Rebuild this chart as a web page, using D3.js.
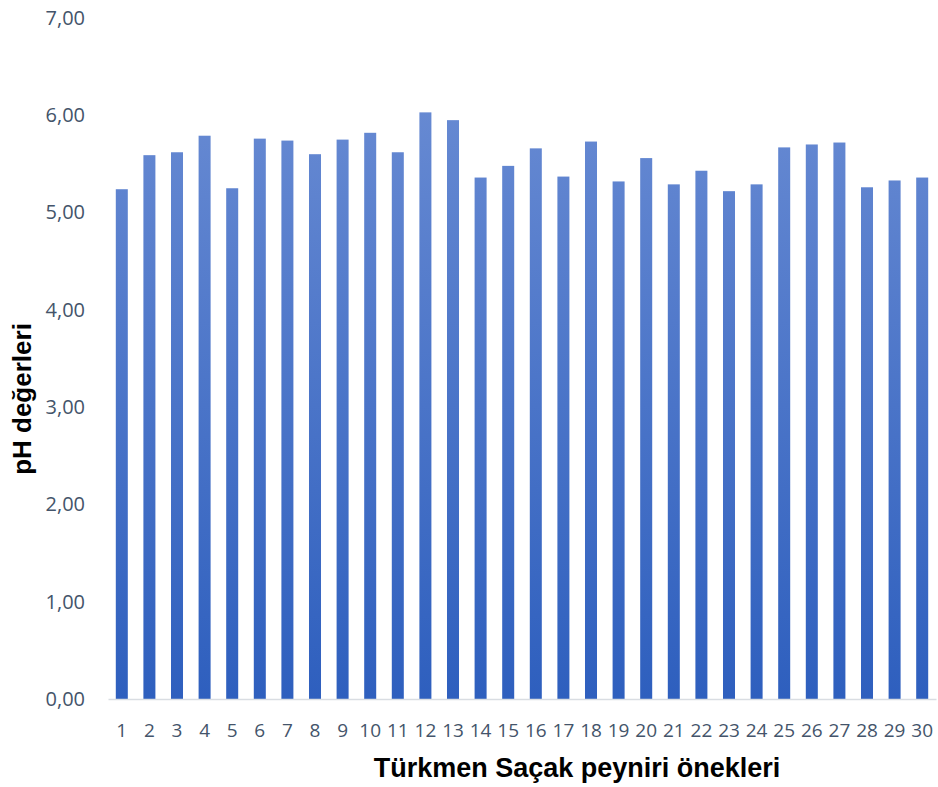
<!DOCTYPE html>
<html>
<head>
<meta charset="utf-8">
<script src="https://cdn.jsdelivr.net/npm/d3@7/dist/d3.min.js"></script>
<style>
  html, body { margin: 0; padding: 0; background: #ffffff; }
  svg { display: block; }
</style>
</head>
<body>
<svg id="chart" width="938" height="787"></svg>
<script>
// pH values of the 30 Türkmen Saçak cheese samples
const samples = d3.range(1, 31).map(String);
const phValues = [
  5.24, 5.59, 5.62, 5.79, 5.25, 5.76, 5.74, 5.60, 5.75, 5.82,
  5.62, 6.03, 5.95, 5.36, 5.48, 5.66, 5.37, 5.73, 5.32, 5.56,
  5.29, 5.43, 5.22, 5.29, 5.67, 5.70, 5.72, 5.26, 5.33, 5.36
];
const yTicks = [0, 1, 2, 3, 4, 5, 6, 7];
const xTitle = "Türkmen Saçak peyniri önekleri";
const yTitle = "pH değerleri";

const svg = d3.select("#chart");
const plot = { left: 108, right: 936, top: 18, bottom: 699 };

const x = d3.scaleBand()
  .domain(samples)
  .range([plot.left, plot.right])
  .paddingInner(0.565)
  .paddingOuter(0.2825);

const y = d3.scaleLinear()
  .domain([0, 7])
  .range([plot.bottom, plot.top]);

// vertical gradient used by the bars
const grad = svg.append("defs").append("linearGradient")
  .attr("id", "barFill")
  .attr("gradientUnits", "userSpaceOnUse")
  .attr("x1", 0).attr("x2", 0)
  .attr("y1", y(6.03)).attr("y2", plot.bottom);
grad.append("stop").attr("offset", "0%").attr("stop-color", "#6689d2");
grad.append("stop").attr("offset", "100%").attr("stop-color", "#2e5fbe");

svg.append("g")
  .selectAll("rect")
  .data(phValues)
  .join("rect")
  .attr("x", (d, i) => x(samples[i]))
  .attr("y", d => y(d))
  .attr("width", x.bandwidth())
  .attr("height", d => y(0) - y(d))
  .attr("fill", "url(#barFill)");

// y axis: labels only
const yAxis = svg.append("g")
  .attr("transform", `translate(${plot.left - 23},0)`)
  .call(d3.axisLeft(y)
    .tickValues(yTicks)
    .tickSize(0)
    .tickPadding(0)
    .tickFormat(d => d3.format(".2f")(d).replace(".", ",")));
yAxis.select(".domain").remove();
yAxis.selectAll("text")
  .attr("fill", "#44546a")
  .style("font-family", "'Open Sans', sans-serif")
  .style("font-size", "20px");

// x axis: baseline and sample numbers
const xAxis = svg.append("g")
  .attr("transform", `translate(0,${plot.bottom})`)
  .call(d3.axisBottom(x).tickSize(0).tickPadding(20));
xAxis.select(".domain")
  .attr("stroke", "#d9dde2")
  .attr("stroke-width", 1.5);
xAxis.selectAll("text")
  .attr("fill", "#44546a")
  .attr("dy", "0.35em")
  .attr("y", 31)
  .style("font-family", "'Open Sans', sans-serif")
  .style("font-size", "19px");

// axis titles
svg.append("text")
  .attr("x", 577)
  .attr("y", 768)
  .attr("dy", "0.35em")
  .attr("text-anchor", "middle")
  .attr("fill", "#000")
  .style("font-family", "'Liberation Sans', Arial, sans-serif")
  .style("font-weight", "bold")
  .style("font-size", "27px")
  .text(xTitle);

svg.append("text")
  .attr("transform", "translate(22,399) rotate(-90)")
  .attr("dy", "0.35em")
  .attr("text-anchor", "middle")
  .attr("fill", "#000")
  .style("font-family", "'Liberation Sans', Arial, sans-serif")
  .style("font-weight", "bold")
  .style("font-size", "26px")
  .text(yTitle);
</script>
</body>
</html>
